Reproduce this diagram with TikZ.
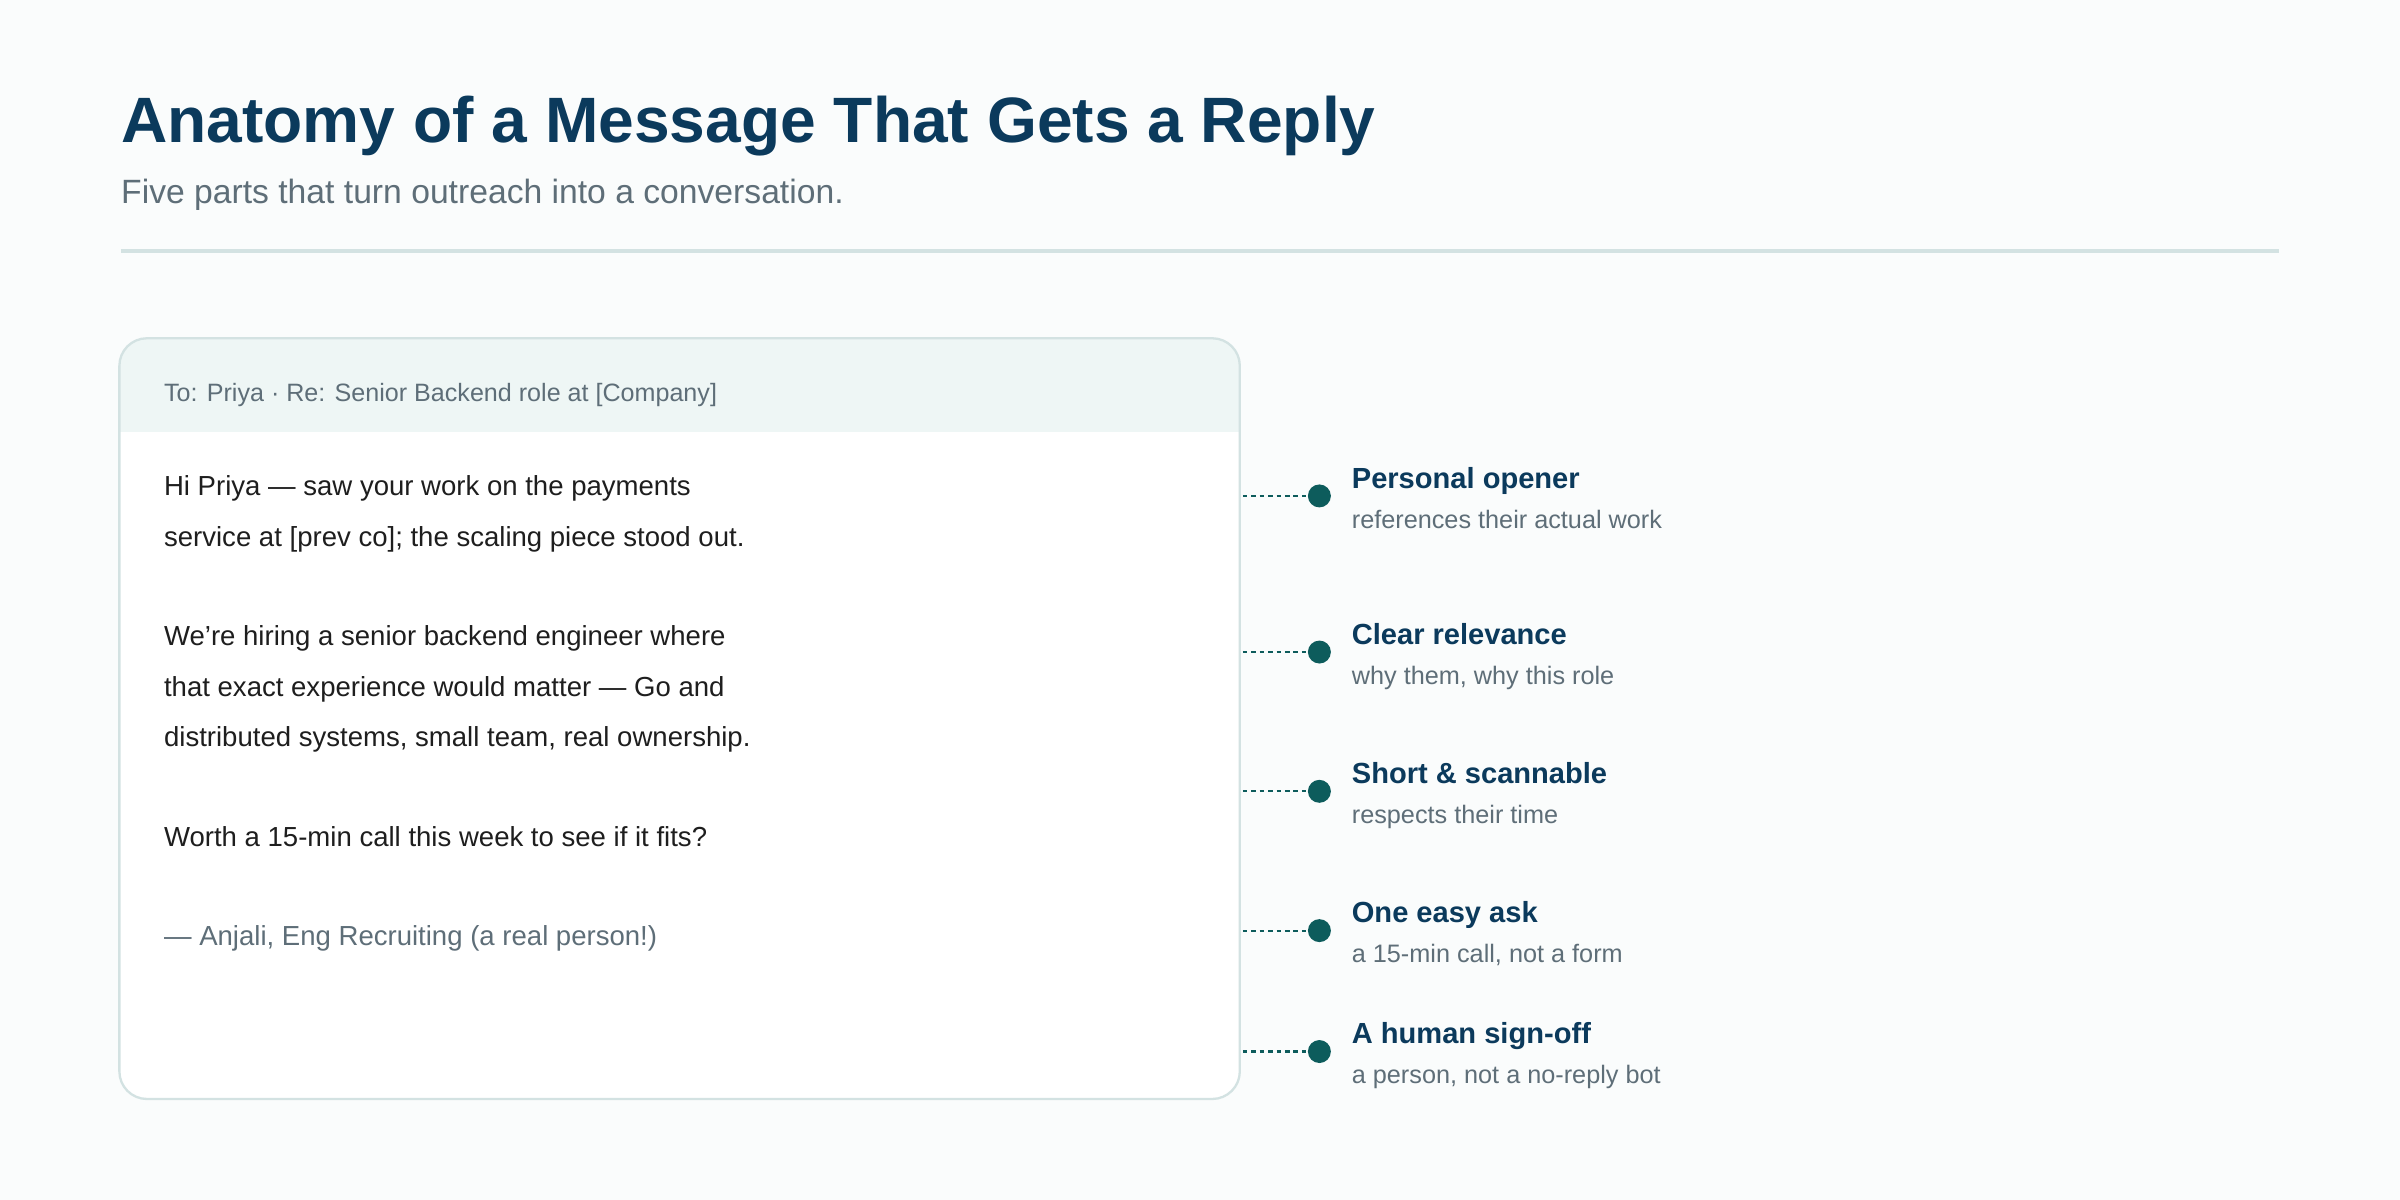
\documentclass[tikz,border=0pt]{standalone}
\usepackage{fontspec}
\setmainfont{Liberation Sans}
\definecolor{bg}{HTML}{FAFCFC}
\definecolor{navy}{HTML}{0B3A5C}
\definecolor{grayt}{HTML}{5E6E78}
\definecolor{rulec}{HTML}{D3E2E2}
\definecolor{hdr}{HTML}{EEF6F5}
\definecolor{teal}{HTML}{0D5C5C}
\definecolor{bodyt}{HTML}{1E1E1E}
\begin{document}
\begin{tikzpicture}[x=1pt,y=-1pt,
  body/.style={anchor=base west,inner sep=0,font=\fontsize{18}{21}\selectfont,text=bodyt},
  lab/.style={anchor=base west,inner sep=0,font=\fontsize{19}{22}\selectfont\bfseries,text=navy},
  sub/.style={anchor=base west,inner sep=0,font=\fontsize{16.5}{19}\selectfont,text=grayt},
  conn/.style={teal,dash pattern=on 3pt off 2.5pt,line width=1.4pt},
  dot/.style={circle,fill=teal,minimum size=15pt,inner sep=0}]
\fill[bg] (0,0) rectangle (1568,784);
\useasboundingbox (0,0) rectangle (1568,784);
\node[anchor=base west,inner sep=0,font=\fontsize{41.9}{48}\selectfont\bfseries,text=navy] (title) at (79,93) {Anatomy of a Message That Gets a Reply};
\node[anchor=base west,inner sep=0,font=\fontsize{22}{25}\selectfont,text=grayt] (subt) at (79,133) {Five parts that turn outreach into a conversation.};
\draw[rulec,line width=2pt] (79,164) -- (1489,164);
% card
\fill[white] (78,221) [rounded corners=18pt] rectangle (810,718);
\begin{scope}
\clip[rounded corners=18pt] (78,221) rectangle (810,718);
\fill[hdr] (78,221) rectangle (810,282);
\end{scope}
\draw[rulec,line width=1.5pt,rounded corners=18pt] (78,221) rectangle (810,718);
\node[anchor=base west,inner sep=0,font=\fontsize{16.4}{19}\selectfont,text=grayt] (hd) at (107,262) {To: Priya · Re: Senior Backend role at [Company]};
\node[body] (b1) at (107,324) {Hi Priya — saw your work on the payments};
\node[body] (b2) at (107,357) {service at [prev co]; the scaling piece stood out.};
\node[body] (b3) at (107,422) {We’re hiring a senior backend engineer where};
\node[body] (b4) at (107,455) {that exact experience would matter — Go and};
\node[body] (b5) at (107,488) {distributed systems, small team, real ownership.};
\node[body] (b6) at (107,553) {Worth a 15-min call this week to see if it fits?};
\node[body,text=grayt] (b7) at (107,618) {— Anjali, Eng Recruiting (a real person!)};
% annotations
\foreach \i/\y/\t/\s in {1/324/Personal opener/references their actual work,
  2/426/Clear relevance/{why them, why this role},
  3/517/Short \& scannable/respects their time,
  4/608/One easy ask/{a 15-min call, not a form},
  5/687/A human sign-off/{a person, not a no-reply bot}}{
  \coordinate (s\i) at (812,\y);
  \node[dot] (d\i) at (862,\y) {};
  \draw[conn] (s\i) -- (d\i.west);
  \node[lab] (l\i) at (883,\y-5) {\t};
  \node[sub] (u\i) at (883,\y+21) {\s};
}
\end{tikzpicture}
\end{document}
